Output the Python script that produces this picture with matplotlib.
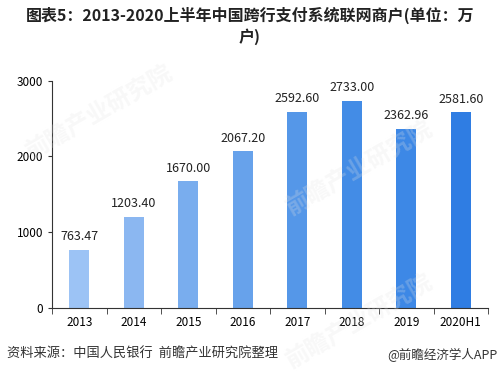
import matplotlib.pyplot as plt
import numpy as np

plt.rcParams['font.family'] = ['Noto Sans CJK SC', 'DejaVu Sans']

years = ['2013', '2014', '2015', '2016', '2017', '2018', '2019', '2020H1']
merchants = [763.47, 1203.40, 1670.00, 2067.20, 2592.60, 2733.00, 2362.96, 2581.60]
colors = ['#9cc3f5', '#8bb7f1', '#79adee', '#67a2eb', '#5597e8', '#438ce6', '#3d88e6', '#2f7de3']

fig = plt.figure(figsize=(5, 3.74), dpi=100)
ax = fig.add_axes([0.104, 0.177, 0.872, 0.607])

x = np.arange(len(years))
ax.bar(x, merchants, width=0.36, color=colors, zorder=2)
for xi, v in zip(x, merchants):
    ax.text(xi, v + 90, f'{v:.2f}', ha='center', va='bottom', fontsize=9, color='#222222')

ax.set_xlim(-0.5, len(years) - 0.5)
ax.set_ylim(0, 3000)
ax.set_yticks([0, 1000, 2000, 3000])
ax.set_xticks(x)
ax.set_xticklabels(years)
ax.set_xticks(np.arange(-0.5, len(years)), minor=True)
ax.tick_params(axis='x', which='major', length=0, labelsize=8.5, pad=6)
ax.tick_params(axis='x', which='minor', length=4, direction='out', color='#333333')
ax.tick_params(axis='y', length=3, direction='out', labelsize=8.5, color='#333333')
for s in ['top', 'right']:
    ax.spines[s].set_visible(False)
ax.spines['left'].set_color('#333333')
ax.spines['bottom'].set_color('#333333')

# faint watermarks
for wx, wy in [(0.2, 0.7), (0.72, 0.55), (0.72, 0.14)]:
    fig.text(wx, wy, '前瞻产业研究院', fontsize=17, fontweight='bold', color='#e3e3e3',
             alpha=0.25, rotation=30, ha='center', va='center', zorder=0)

fig.text(0.5, 0.958, '图表5：2013-2020上半年中国跨行支付系统联网商户(单位：万',
         ha='center', va='center', fontsize=11.5, fontweight='bold', color='#222222')
fig.text(0.5, 0.903, '户)', ha='center', va='center', fontsize=11.5, fontweight='bold', color='#222222')
fig.text(0.014, 0.052, '资料来源：中国人民银行  前瞻产业研究院整理', ha='left', va='center',
         fontsize=9.5, color='#333333')
fig.text(0.996, 0.052, '@前瞻经济学人APP', ha='right', va='center', fontsize=9, color='#333333')

fig.savefig('out.png', dpi=100)
